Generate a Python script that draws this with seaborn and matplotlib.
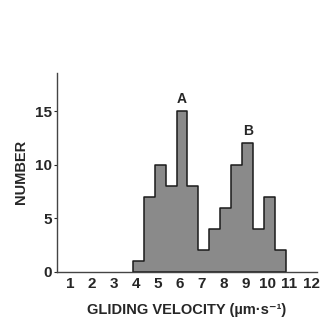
import numpy as np
import pandas as pd
import seaborn as sns
import matplotlib.pyplot as plt

# counts per 0.5 um/s velocity bin
bin_left = [3.85, 4.35, 4.85, 5.35, 5.85, 6.35, 6.85, 7.35, 7.85, 8.35, 8.85, 9.35, 9.85, 10.35]
counts = [1, 7, 10, 8, 15, 8, 2, 4, 6, 10, 12, 4, 7, 2]
bin_width = 0.5
peak_labels = ["A", "B"]
x_ticks = [1, 2, 3, 4, 5, 6, 7, 8, 9, 10, 11, 12]
y_ticks = [0, 5, 10, 15]

df = pd.DataFrame({"velocity": np.array(bin_left) + bin_width / 2, "number": counts})
edges = list(bin_left) + [bin_left[-1] + bin_width]

sns.set_style("white")
plt.rcParams['font.family'] = ['Liberation Sans', 'DejaVu Sans']

fig = plt.figure(figsize=(3.24, 3.18), dpi=100)
ax = fig.add_axes([0.176, 0.145, 0.802, 0.626])

sns.histplot(data=df, x="velocity", weights="number", bins=edges, element="step",
             fill=True, color="#8a8a8a", edgecolor="#1a1a1a", linewidth=1.1, alpha=1, ax=ax)

# peak labels A and B above the two maxima (left and right halves)
mid = len(counts) // 2
for lab, part, off in zip(peak_labels, [counts[:mid], counts[mid:]], [0, mid]):
    i = off + int(np.argmax(part))
    ax.text(df["velocity"][i], counts[i] + 0.5, lab, ha="center", va="bottom",
            fontsize=10, fontweight="bold")

ax.set_xlim(0.4, 12.25)
ax.set_ylim(0, 18.6)
ax.set_xticks(x_ticks)
ax.set_yticks(y_ticks)
ax.set_xticklabels([str(t) for t in x_ticks], fontsize=11, fontweight="bold")
ax.set_yticklabels([str(t) for t in y_ticks], fontsize=11, fontweight="bold")
ax.tick_params(axis="x", length=0, pad=4)
ax.tick_params(axis="y", length=2.5, width=0.8, pad=1, left=True)
ax.set_xlabel("GLIDING VELOCITY (µm·s⁻¹)", fontsize=10.5, fontweight="bold", labelpad=8)
ax.set_ylabel("NUMBER", fontsize=10.5, fontweight="bold", labelpad=5)

sns.despine(ax=ax)
for s in ["left", "bottom"]:
    ax.spines[s].set_color("#444444")
    ax.spines[s].set_linewidth(1.0)

fig.savefig("out.png", dpi=100)
